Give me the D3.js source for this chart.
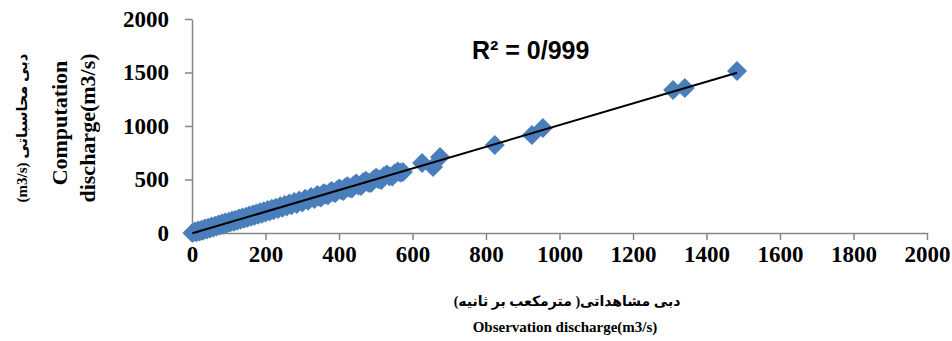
<!DOCTYPE html>
<html>
<head>
<meta charset="utf-8">
<script src="https://cdn.jsdelivr.net/npm/d3@7"></script>
<style>
  body { margin: 0; background: #fff; }
  svg { display: block; }
</style>
</head>
<body>
<svg width="952" height="341"></svg>
<script>
// observed discharge (m3/s)
var observed = [1, 8, 12, 17, 21, 26, 30, 35, 40, 44, 49, 53, 58, 63, 67, 72, 77, 81, 86, 90,
    95, 100, 104, 109, 114, 118, 123, 128, 132, 137, 142, 147, 151, 156, 161, 166, 170, 175, 180, 185,
    190, 195, 200, 206, 211, 217, 222, 228, 234, 240, 246, 252, 258, 265, 271, 278, 285, 292, 300, 308,
    316, 324, 333, 342, 351, 360, 370, 380, 390, 401, 412, 423, 435, 447, 460, 473, 487, 501, 515, 530,
    545, 560, 574, 337, 346, 356, 365, 375, 385, 395, 406, 417, 429, 441, 453, 466, 480, 494, 508,
    522, 537, 552, 567, 626, 656, 675, 824, 925, 955, 1309, 1341, 1483];
// computed discharge (m3/s)
var computed = [0, 14, 6, 24, 15, 30, 22, 41, 33, 50, 42, 60, 51, 68, 60, 79, 70, 88, 78, 97,
    88, 106, 97, 116, 106, 125, 115, 135, 124, 145, 134, 153, 143, 163, 152, 173, 162, 182, 171, 193,
    181, 203, 191, 214, 202, 226, 212, 237, 224, 249, 236, 262, 247, 275, 259, 289, 272, 303, 286, 320,
    302, 336, 318, 355, 332, 372, 352, 392, 373, 415, 392, 437, 416, 462, 440, 488, 468, 517, 496, 546,
    527, 574, 570, 344, 339, 364, 358, 382, 378, 403, 399, 425, 421, 449, 445, 474, 470, 500, 502,
    530, 531, 558, 562, 654, 617, 710, 822, 916, 981, 1336, 1355, 1514];

var xTicks = [0, 200, 400, 600, 800, 1000, 1200, 1400, 1600, 1800, 2000];
var yTicks = [0, 500, 1000, 1500, 2000];
var r2Label = "R² = 0/999";

var svg = d3.select("svg");
var mLeft = 192, mRight = 927, mTop = 19, mBottom = 233;

var x = d3.scaleLinear().domain([0, 2000]).range([mLeft, mRight]);
var y = d3.scaleLinear().domain([0, 2000]).range([mBottom, mTop]);

var axisColor = "#868686";
var tickFont = "'Times New Roman', 'Liberation Serif', serif";

// x axis
var gx = svg.append("g")
    .attr("transform", "translate(0," + mBottom + ")")
    .call(d3.axisBottom(x).tickValues(xTicks).tickSize(7).tickSizeOuter(0).tickPadding(6)
        .tickFormat(d3.format("d")));
// y axis
var gy = svg.append("g")
    .attr("transform", "translate(" + mLeft + ",0)")
    .call(d3.axisLeft(y).tickValues(yTicks).tickSize(7).tickSizeOuter(0).tickPadding(16)
        .tickFormat(d3.format("d")));

[gx, gy].forEach(function(g) {
    g.select(".domain").attr("stroke", axisColor).attr("stroke-width", 1.5);
    g.selectAll(".tick line").attr("stroke", axisColor).attr("stroke-width", 1.5);
    g.selectAll(".tick text")
        .attr("fill", "#000")
        .style("font-family", tickFont)
        .style("font-weight", "bold")
        .style("font-size", "23px");
});

// points (diamonds)
var pts = observed.map(function(v, i) { return { x: v, y: computed[i] }; });
var diamond = d3.symbol().type(d3.symbolSquare).size(200);
svg.append("g")
    .selectAll("path")
    .data(pts)
    .enter()
    .append("path")
    .attr("d", diamond)
    .attr("fill", "#4a7ebb")
    .attr("transform", function(d) {
        return "translate(" + x(d.x) + "," + y(d.y) + ") rotate(45)";
    });

// linear trendline fitted to the data
var mx = d3.mean(pts, function(d) { return d.x; });
var my = d3.mean(pts, function(d) { return d.y; });
var sxy = d3.sum(pts, function(d) { return (d.x - mx) * (d.y - my); });
var sxx = d3.sum(pts, function(d) { return (d.x - mx) * (d.x - mx); });
var slope = sxy / sxx;
var intercept = my - slope * mx;
var ext = d3.extent(observed);
svg.append("line")
    .attr("x1", x(ext[0])).attr("y1", y(intercept + slope * ext[0]))
    .attr("x2", x(ext[1])).attr("y2", y(intercept + slope * ext[1]))
    .attr("stroke", "#000")
    .attr("stroke-width", 2);

// R2 label
svg.append("text")
    .attr("x", 472).attr("y", 59)
    .style("font-family", "Arial, 'Liberation Sans', sans-serif")
    .style("font-weight", "bold")
    .style("font-size", "25px")
    .text(r2Label);

// y axis titles
var serifArab = "'Times New Roman', 'Liberation Serif', 'DejaVu Sans', serif";
svg.append("text")
    .attr("transform", "translate(27,128) rotate(-90)")
    .attr("text-anchor", "middle")
    .style("font-family", serifArab)
    .style("font-weight", "bold")
    .style("font-size", "15px")
    .text("(m3/s) دبی  محاسباتی");
svg.append("text")
    .attr("transform", "translate(67,123) rotate(-90)")
    .attr("text-anchor", "middle")
    .style("font-family", tickFont)
    .style("font-weight", "bold")
    .style("font-size", "22px")
    .text("Computation");
svg.append("text")
    .attr("transform", "translate(95,128) rotate(-90)")
    .attr("text-anchor", "middle")
    .style("font-family", tickFont)
    .style("font-weight", "bold")
    .style("font-size", "22px")
    .text("discharge(m3/s)");

// x axis titles
svg.append("text")
    .attr("x", 567).attr("y", 306)
    .attr("text-anchor", "middle")
    .attr("direction", "rtl")
    .style("direction", "rtl")
    .style("font-family", serifArab)
    .style("font-weight", "bold")
    .style("font-size", "14px")
    .text("دبی مشاهداتی( مترمکعب بر ثانیه)");
svg.append("text")
    .attr("x", 565).attr("y", 332)
    .attr("text-anchor", "middle")
    .style("font-family", tickFont)
    .style("font-weight", "bold")
    .style("font-size", "15px")
    .text("Observation discharge(m3/s)");
</script>
</body>
</html>
